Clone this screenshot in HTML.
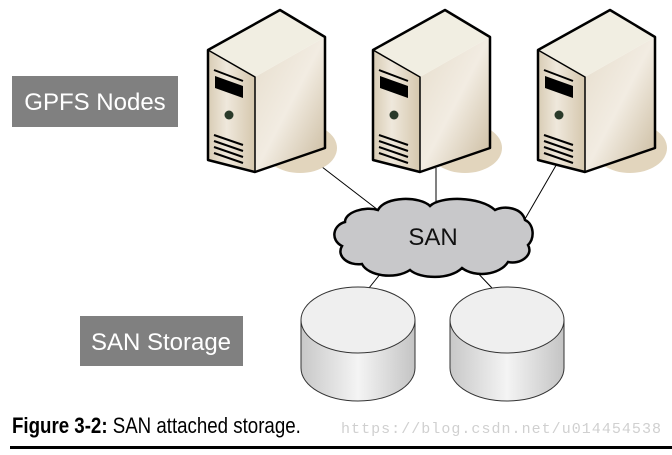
<!DOCTYPE html>
<html><head><meta charset="utf-8"><style>
body{margin:0;background:#fff;width:672px;height:450px;overflow:hidden}
</style></head><body>
<svg width="672" height="450" viewBox="0 0 672 450" xmlns="http://www.w3.org/2000/svg">
<defs>
<linearGradient id="side" x1="0" y1="0" x2="1" y2="1">
<stop offset="0" stop-color="#e6ddcc"/><stop offset="0.5" stop-color="#f2ece2"/><stop offset="1" stop-color="#c9b99c"/></linearGradient>
<linearGradient id="front" x1="0" y1="0" x2="1" y2="0">
<stop offset="0" stop-color="#d8ccb4"/><stop offset="0.4" stop-color="#efe8dc"/><stop offset="1" stop-color="#d5c7ad"/></linearGradient>
<linearGradient id="cyl" x1="0" y1="0" x2="1" y2="0">
<stop offset="0" stop-color="#c8c8c8"/><stop offset="0.5" stop-color="#f4f4f4"/><stop offset="1" stop-color="#c4c4c4"/></linearGradient>
<g id="srv">
<ellipse cx="300" cy="148" rx="37" ry="25" fill="#e2d5bd"/>
<polygon points="208,50 255,77 255,172 208,160" fill="url(#front)"/>
<polygon points="255,77 325,37 325,148 255,172" fill="url(#side)"/>
<polygon points="208,50 280,10 325,37 255,77" fill="#f1eee2"/>
<polygon points="208,50 280,10 325,37 325,148 255,172 208,160" fill="none" stroke="#000" stroke-width="2.5" stroke-linejoin="round"/>
<polyline points="208,50 255,77 255,172" fill="none" stroke="#000" stroke-width="1.5"/>
<path d="M214,70 L243,81" stroke="#000" stroke-width="2"/>
<polygon points="215,76 243,86 243,98 215,88" fill="#000"/>
<circle cx="229" cy="115" r="4.5" fill="#2a3a2a"/>
<path d="M214,135 L243,145 M214,141 L243,151 M214,147 L243,157 M214,153 L243,163" stroke="#000" stroke-width="2"/>
</g>
</defs>
<line x1="300" y1="150" x2="378" y2="210" stroke="#000" stroke-width="1"/>
<line x1="436" y1="168" x2="436" y2="202" stroke="#000" stroke-width="1"/>
<line x1="562" y1="155" x2="525" y2="219" stroke="#000" stroke-width="1"/>
<line x1="385" y1="268" x2="369" y2="288" stroke="#000" stroke-width="1"/>
<line x1="473" y1="268" x2="492" y2="288" stroke="#000" stroke-width="1"/>
<use href="#srv"/>
<use href="#srv" x="165"/>
<use href="#srv" x="330"/>
<path d="M378,210 C385,196 420,196 430,206 C440,196 480,196 495,210 C505,205 522,208 525,220 C534,224 535,238 528,245 C534,255 520,265 508,262 C500,275 475,278 462,268 C450,280 420,279 410,270 C395,280 368,276 362,264 C348,266 336,256 342,246 C330,240 333,225 345,222 C345,212 365,206 378,210 Z" fill="#c8c8ca" stroke="#000" stroke-width="2.5"/>
<text x="433" y="245" font-family="Liberation Sans, sans-serif" font-size="24" text-anchor="middle" fill="#111">SAN</text>
<g stroke="#333" stroke-width="1">
<path d="M301,320 L301,368 A57,33 0 0 0 415,368 L415,320" fill="url(#cyl)"/>
<ellipse cx="358" cy="320" rx="57" ry="33" fill="#efefef"/>
<path d="M450,320 L450,368 A57,33 0 0 0 564,368 L564,320" fill="url(#cyl)"/>
<ellipse cx="507" cy="320" rx="57" ry="33" fill="#efefef"/>
</g>
<rect x="12" y="76" width="166" height="51" fill="#808080"/>
<text x="95" y="110" font-family="Liberation Sans, sans-serif" font-size="24" text-anchor="middle" fill="#fff">GPFS Nodes</text>
<rect x="80" y="316" width="163" height="50" fill="#808080"/>
<text x="161" y="350" font-family="Liberation Sans, sans-serif" font-size="24" text-anchor="middle" fill="#fff">SAN Storage</text>
<g transform="translate(12,433) scale(0.85,1)">
<text x="0" y="0" font-family="Liberation Sans, sans-serif" font-size="22" fill="#000"><tspan font-weight="bold">Figure 3-2:</tspan> SAN attached storage.</text>
</g>
<text x="341" y="433" font-family="Liberation Mono, monospace" font-size="15" fill="#d0d0d0" textLength="320">https://blog.csdn.net/u014454538</text>
<rect x="10" y="446" width="662" height="3" fill="#000"/>
</svg>
</body></html>
